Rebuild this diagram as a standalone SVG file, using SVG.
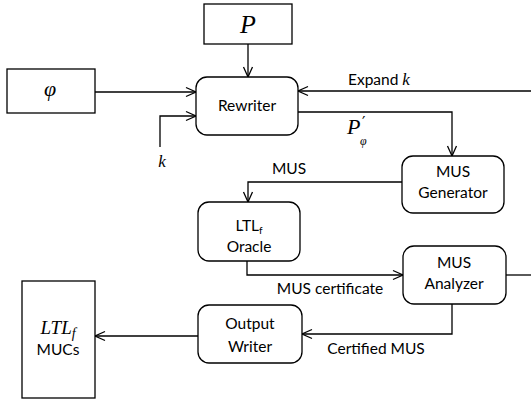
<svg xmlns="http://www.w3.org/2000/svg" width="531" height="403" viewBox="0 0 531 403">
<defs>
<marker id="ah" markerUnits="userSpaceOnUse" markerWidth="14" markerHeight="12" viewBox="-12 -6 14 12" refX="0" refY="0" orient="auto">
<path d="M-10,-4.5 L0,0 L-10,4.5" fill="none" stroke="#000" stroke-width="1.3"/>
</marker>
</defs>
<style>
.box{fill:#fff;stroke:#000;stroke-width:1.3}
.ln{fill:none;stroke:#000;stroke-width:1.3}
.arr{fill:none;stroke:#000;stroke-width:1.3;marker-end:url(#ah)}
.t{font-family:"Lato","Liberation Sans",sans-serif;font-size:15.5px;fill:#000}
.m{font-family:"Liberation Serif","DejaVu Serif",serif;font-style:italic;fill:#000}
</style>
<rect width="531" height="403" fill="#fff"/>
<g id="connectors">
<path class="arr" d="M248,44 V77"/>
<path class="arr" d="M95,92 H196"/>
<path class="arr" d="M160,147 V116 H196"/>
<path class="arr" d="M531,91 H298"/>
<path class="arr" d="M298,112 H452 V156"/>
<path class="arr" d="M402,182 H248 V202"/>
<path class="arr" d="M247,261 V275 H403"/>
<path class="ln" d="M506,275 H531"/>
<path class="arr" d="M452,304 V334 H302"/>
<path class="arr" d="M198,336 H95"/>
<text class="t" x="348" y="85">Expand <tspan class="m" font-size="17">k</tspan></text>
<text class="m" x="347" y="134" font-size="22">P</text>
<text x="362" y="128" font-family="'DejaVu Sans',sans-serif" font-size="15">′</text>
<text class="m" x="360" y="145" font-size="12">φ</text>
<text class="t" x="289" y="174" text-anchor="middle">MUS</text>
<text class="t" x="330" y="294" text-anchor="middle">MUS certificate</text>
<text class="t" x="376" y="354" text-anchor="middle">Certified MUS</text>
<text class="m" x="162" y="167" font-size="17" text-anchor="middle">k</text>
</g>
<g id="P">
<rect class="box" x="204" y="4" width="88" height="40"/>
<text class="m" x="248" y="33" font-size="26" text-anchor="middle">P</text>
</g>
<g id="phi">
<rect class="box" x="7" y="69" width="88" height="44"/>
<text class="m" x="50" y="96" font-size="22" text-anchor="middle">φ</text>
</g>
<g id="rewriter">
<rect class="box" x="196" y="77" width="102" height="58" rx="11"/>
<text class="t" x="247" y="111" text-anchor="middle">Rewriter</text>
</g>
<g id="mus-generator">
<rect class="box" x="402" y="156" width="102" height="57" rx="11"/>
<text class="t" x="453" y="177" text-anchor="middle">MUS</text>
<text class="t" x="453" y="198" text-anchor="middle">Generator</text>
</g>
<g id="ltlf-oracle">
<rect class="box" x="198" y="202" width="102" height="59" rx="11"/>
<text class="t" x="249" y="231" text-anchor="middle">LTL<tspan font-size="10" dy="3">f</tspan></text>
<text class="t" x="249" y="252" text-anchor="middle">Oracle</text>
</g>
<g id="mus-analyzer">
<rect class="box" x="403" y="246" width="103" height="58" rx="11"/>
<text class="t" x="454" y="268" text-anchor="middle">MUS</text>
<text class="t" x="454" y="289" text-anchor="middle">Analyzer</text>
</g>
<g id="output-writer">
<rect class="box" x="198" y="305" width="104" height="58" rx="11"/>
<text class="t" x="250" y="329" text-anchor="middle">Output</text>
<text class="t" x="250" y="352" text-anchor="middle">Writer</text>
</g>
<g id="ltlf-mucs">
<rect class="box" x="22" y="281" width="73" height="117"/>
<text class="m" x="58" y="334" font-size="19" text-anchor="middle">LTL<tspan font-size="14" dy="4">f</tspan></text>
<text class="t" x="58" y="355" text-anchor="middle">MUCs</text>
</g>
</svg>
